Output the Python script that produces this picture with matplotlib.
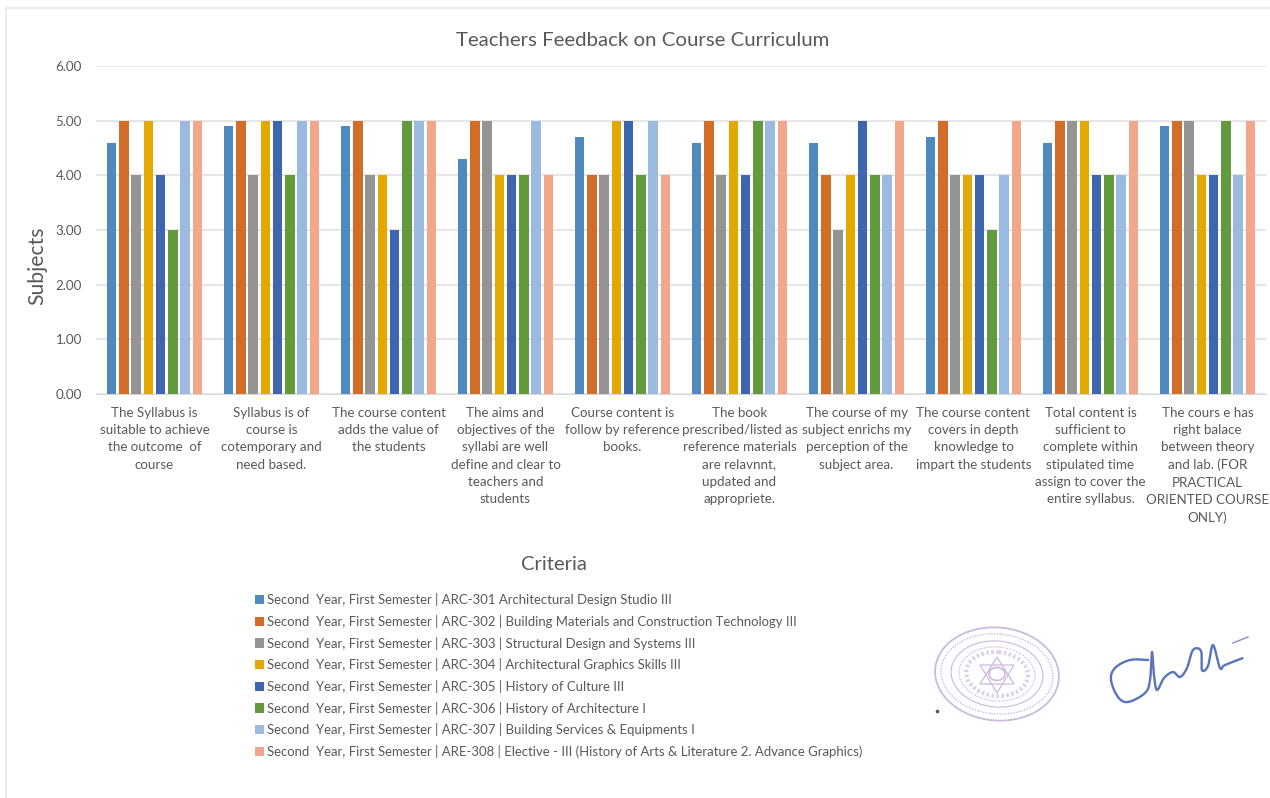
#!/usr/bin/env python3
"""Teachers feedback on course curriculum: grouped bars, legend below, seal and signature."""
import numpy as np
import matplotlib.pyplot as plt
from matplotlib.patches import Ellipse, Polygon, Rectangle

W, H = 1270, 798

plt.rcParams.update({
    'font.family': ['Lato', 'Open Sans', 'DejaVu Sans'],
    'figure.facecolor': 'white',
})

TEXT = '#595959'
GRID = '#E6E6E6'

criteria = [
    'The Syllabus is\nsuitable to achieve\nthe outcome  of\ncourse',
    'Syllabus is of\ncourse is\ncotemporary and\nneed based.',
    'The course content\nadds the value of\nthe students',
    'The aims and\nobjectives of the\nsyllabi are well\ndefine and clear to\nteachers and\nstudents',
    'Course content is\nfollow by reference\nbooks.',
    'The book\nprescribed/listed as\nreference materials\nare relavnnt,\nupdated and\nappropriete.',
    'The course of my\nsubject enrichs my\nperception of the\nsubject area.',
    'The course content\ncovers in depth\nknowledge to\nimpart the students',
    'Total content is\nsufficient to\ncomplete within\nstipulated time\nassign to cover the\nentire syllabus.',
    'The cours e has\nright balace\nbetween theory\nand lab. (FOR\nPRACTICAL\nORIENTED COURSE\nONLY)',
]

subjects = [
    'Second  Year, First Semester | ARC-301 Architectural Design Studio III',
    'Second  Year, First Semester | ARC-302 | Building Materials and Construction Technology III',
    'Second  Year, First Semester | ARC-303 | Structural Design and Systems III',
    'Second  Year, First Semester | ARC-304 | Architectural Graphics Skills III',
    'Second  Year, First Semester | ARC-305 | History of Culture III',
    'Second  Year, First Semester | ARC-306 | History of Architecture I',
    'Second  Year, First Semester | ARC-307 | Building Services & Equipments I',
    'Second  Year, First Semester | ARE-308 | Elective - III (History of Arts & Literature 2. Advance Graphics)',
]

colors = ['#5089BD', '#D26D28', '#949494', '#E2AA00',
          '#3E66AE', '#649A3E', '#9ABAE0', '#F1A88A']

arc301 = [4.6, 4.9, 4.9, 4.3, 4.7, 4.6, 4.6, 4.7, 4.6, 4.9]
arc302 = [5, 5, 5, 5, 4, 5, 4, 5, 5, 5]
arc303 = [4, 4, 4, 5, 4, 4, 3, 4, 5, 5]
arc304 = [5, 5, 4, 4, 5, 5, 4, 4, 5, 4]
arc305 = [4, 5, 3, 4, 5, 4, 5, 4, 4, 4]
arc306 = [3, 4, 5, 4, 4, 5, 4, 3, 4, 5]
arc307 = [5, 5, 5, 5, 5, 5, 4, 4, 4, 4]
are308 = [5, 5, 5, 4, 4, 5, 5, 5, 5, 5]
series = [arc301, arc302, arc303, arc304, arc305, arc306, arc307, are308]

yticks = [0, 1, 2, 3, 4, 5, 6]


def _spline(px, py, n=14):
    """Catmull-Rom through the pen points, so the signature reads as one stroke."""
    p = np.column_stack([px, py]).astype(float)
    p = np.vstack([p[0], p, p[-1]])
    out = []
    for i in range(1, len(p) - 2):
        for t in np.linspace(0, 1, n, endpoint=False):
            out.append(0.5 * (2 * p[i] + (p[i + 1] - p[i - 1]) * t
                              + (2 * p[i - 1] - 5 * p[i] + 4 * p[i + 1] - p[i + 2]) * t ** 2
                              + (3 * p[i] - p[i - 1] - 3 * p[i + 1] + p[i + 2]) * t ** 3))
    out = np.array(out)
    return out[:, 0], out[:, 1]


fig = plt.figure(figsize=(W / 100, H / 100), dpi=100)

# overlay in pixel coordinates for the page frame, seal and signature
page = fig.add_axes([0, 0, 1, 1], zorder=0)
page.set_xlim(0, W)
page.set_ylim(H, 0)
page.axis('off')
page.add_patch(Rectangle((5.5, 7.5), W + 20, H + 20, fc='white', ec='#E8E8E8', lw=1.2))

# plot area: x 96..1266 px, y 66..394 px
ax = fig.add_axes([96 / W, 1 - 394 / H, 1170 / W, 328 / H], zorder=1)
ax.patch.set_alpha(0)

x = np.arange(len(criteria))
pitch = 0.1047
bar_w = 0.083
for i, (vals, color, name) in enumerate(zip(series, colors, subjects)):
    ax.bar(x + (i - 3.5) * pitch, vals, bar_w, color=color, label=name, zorder=3)

ax.set_xlim(-0.5, len(criteria) - 0.5)
ax.set_ylim(0, 6)
ax.set_yticks(yticks)
ax.set_yticklabels([f'{v:.2f}' for v in yticks], fontsize=9.6, color=TEXT)
ax.set_xticks(x)
ax.set_xticklabels(criteria, fontsize=9.6, color=TEXT, linespacing=1.52)
ax.tick_params(axis='both', length=0)
ax.tick_params(axis='x', pad=9.4)
ax.tick_params(axis='y', pad=10)
ax.grid(True, axis='y', color=GRID, lw=1.5, zorder=0)
ax.set_axisbelow(True)
for side in ('top', 'right', 'left'):
    ax.spines[side].set_visible(False)
ax.spines['bottom'].set_color('#D9D9D9')

fig.text(643 / W, 1 - 41 / H, 'Teachers Feedback on Course Curriculum',
         ha='center', va='center', fontsize=14.7, color=TEXT)
fig.text(37 / W, 1 - 266 / H, 'Subjects', rotation=90,
         ha='center', va='center', fontsize=15.2, color=TEXT)
fig.text(554 / W, 1 - 565 / H, 'Criteria',
         ha='center', va='center', fontsize=14.6, color=TEXT)

fig.legend(loc='upper left', bbox_to_anchor=(252 / W, 1 - 590 / H),
           frameon=False, ncol=1, fontsize=9.47, labelcolor=TEXT,
           handlelength=0.7, handleheight=0.7, handletextpad=0.2,
           labelspacing=0.66, borderpad=0.25, borderaxespad=0)

# seal
seal = '#CBB9DF'
page.add_patch(Ellipse((997, 674), 124, 93, angle=5, fill=False, ec=seal, lw=1.3))
page.add_patch(Ellipse((997, 674), 112, 80, angle=5, fill=False, ec=seal, lw=1.0, ls=(0, (1, 1))))
page.add_patch(Ellipse((997, 674), 92, 66, angle=5, fill=False, ec=seal, lw=0.8))
page.add_patch(Ellipse((997, 674), 76, 54, angle=5, fill=False, ec=seal, lw=0.9, ls=(0, (1, 1))))
page.add_patch(Ellipse((997, 674), 62, 44, angle=5, fill=False, ec='#DDD0EA', lw=3.0, ls=(0, (0.6, 0.6))))
page.add_patch(Polygon([(997, 657), (1014, 684), (980, 684)], fill=False, ec=seal, lw=0.9))
page.add_patch(Polygon([(997, 693), (1014, 665), (980, 665)], fill=False, ec=seal, lw=0.9))
page.add_patch(Ellipse((997, 674), 16, 13, fill=False, ec=seal, lw=1.2))
page.plot([937], [711], marker='o', ms=1.6, color='#555555')

# signature
pen_x = [1148, 1130, 1115, 1111, 1118, 1128, 1145, 1150, 1152, 1154, 1157, 1164,
         1173, 1180, 1187, 1193, 1201, 1202, 1208, 1213, 1220, 1225, 1243]
pen_y = [660, 660, 668, 680, 697, 702, 693, 680, 652, 675, 690, 678,
         672, 677, 668, 650, 651, 670, 666, 645, 668, 665, 658]
sx, sy = _spline(pen_x, pen_y)
page.plot(sx, sy, color='#5A74BC', lw=1.7, solid_joinstyle='round')
page.plot([1233, 1248], [643, 637], color='#7C90CC', lw=1.0)

fig.savefig('out.png', dpi=100)
plt.close(fig)
